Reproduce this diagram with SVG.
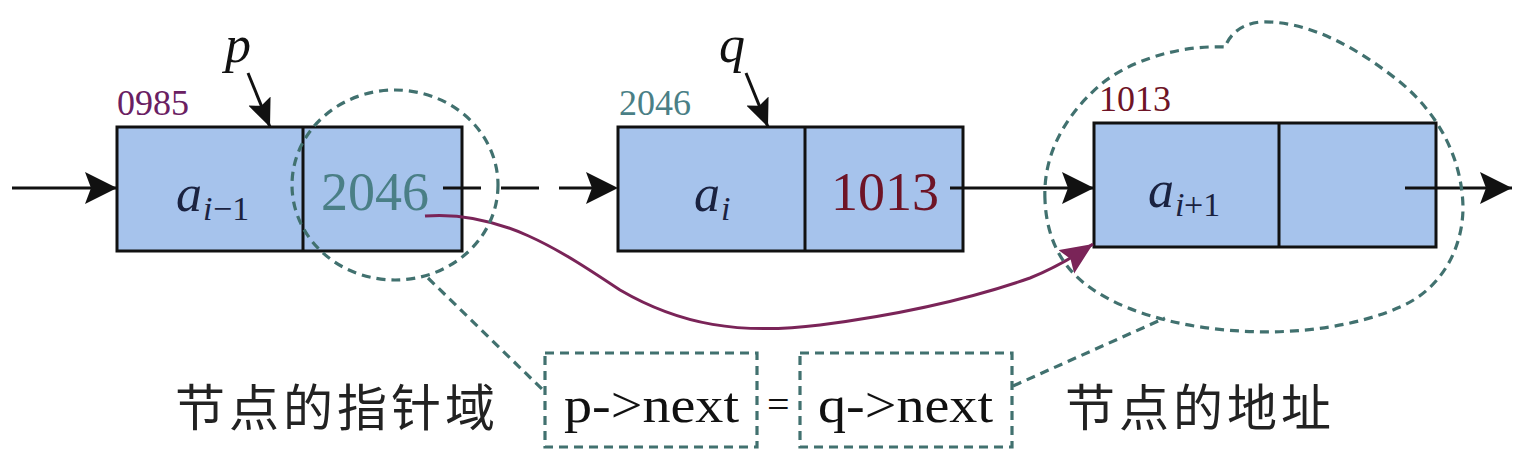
<svg xmlns="http://www.w3.org/2000/svg" width="1522" height="461" viewBox="0 0 1522 461">
<style>
.cell{fill:#a6c3ec;stroke:#111;stroke-width:3}
.div{stroke:#111;stroke-width:3}
.serif{font-family:"Liberation Serif","Times New Roman",serif}
.it{font-style:italic}
.dash{fill:none;stroke:#41716f;stroke-width:3.2;stroke-dasharray:9 6}
.link{fill:none;stroke:#111;stroke-width:3}
.cjk{font-family:"Noto Sans CJK SC",sans-serif;font-size:50px;fill:#222}
</style>
<defs>
<marker id="ah" markerUnits="userSpaceOnUse" markerWidth="34" markerHeight="34" refX="32" refY="16" orient="auto"><path d="M0,0 L32,16 L0,32 L6,16 Z" fill="#111"/></marker>
<marker id="ahs" markerUnits="userSpaceOnUse" markerWidth="30" markerHeight="26" refX="28" refY="12" orient="auto"><path d="M0,0 L28,12 L0,24 L5,12 Z" fill="#111"/></marker>
<marker id="ahp" markerUnits="userSpaceOnUse" markerWidth="34" markerHeight="30" refX="32" refY="14" orient="auto"><path d="M0,0 L32,14 L0,28 L5,14 Z" fill="#7a2458"/></marker>
</defs>

<g id="node1">
<rect class="cell" x="117" y="127" width="345" height="124"/>
<line class="div" x1="303" y1="127" x2="303" y2="251"/>
<text class="serif" x="117" y="115" font-size="36" fill="#6a2062">0985</text>
<text class="serif it" x="176" y="211" font-size="52" fill="#1a2240">a</text>
<text class="serif it" x="203" y="220" font-size="34" fill="#1a2240">i</text>
<text class="serif" x="213" y="220" font-size="34" fill="#1a2240">−1</text>
<text class="serif" x="321" y="210" font-size="54" fill="#4a7f86">2046</text>
</g>

<g id="node2">
<rect class="cell" x="618" y="127" width="345" height="124"/>
<line class="div" x1="805" y1="127" x2="805" y2="251"/>
<text class="serif" x="619" y="115" font-size="36" fill="#4a7f86">2046</text>
<text class="serif it" x="694" y="211" font-size="52" fill="#1a2240">a</text>
<text class="serif it" x="721" y="220" font-size="34" fill="#1a2240">i</text>
<text class="serif" x="831" y="210" font-size="54" fill="#6e1426">1013</text>
</g>

<g id="node3">
<rect class="cell" x="1094" y="123" width="342" height="124"/>
<line class="div" x1="1279" y1="123" x2="1279" y2="247"/>
<text class="serif" x="1099" y="111" font-size="36" fill="#6e1426">1013</text>
<text class="serif it" x="1148" y="207" font-size="52" fill="#1a2240">a</text>
<text class="serif it" x="1175" y="216" font-size="34" fill="#1a2240">i</text>
<text class="serif" x="1184" y="216" font-size="34" fill="#1a2240">+1</text>
</g>

<g id="pointer-p">
<text class="serif it" x="225" y="62" font-size="52" fill="#111">p</text>
</g>
<g id="pointer-q">
<text class="serif it" x="719" y="62" font-size="52" fill="#111">q</text>
</g>

<g id="labels">
<text class="cjk" x="175" y="426" letter-spacing="4">节点的指针域</text>
<text class="cjk" x="1065" y="426" letter-spacing="4">节点的地址</text>
<rect class="dash" x="545" y="353" width="212" height="94"/>
<rect class="dash" x="800" y="353" width="212" height="94"/>
<text class="serif" x="564" y="422" font-size="50" fill="#111" textLength="175" lengthAdjust="spacingAndGlyphs">p-&gt;next</text>
<text class="serif" x="767" y="418" font-size="40" fill="#111">=</text>
<text class="serif" x="818" y="422" font-size="50" fill="#111" textLength="175" lengthAdjust="spacingAndGlyphs">q-&gt;next</text>
</g>

<g id="connectors">
<line class="link" x1="12" y1="188" x2="117" y2="188" marker-end="url(#ah)"/>
<line class="link" x1="443" y1="188" x2="618" y2="188" stroke-dasharray="38 20" marker-end="url(#ah)"/>
<line class="link" x1="950" y1="188" x2="1094" y2="188" marker-end="url(#ah)"/>
<line class="link" x1="1405" y1="188" x2="1512" y2="188" marker-end="url(#ah)"/>
<line class="link" x1="248" y1="73" x2="270" y2="127" marker-end="url(#ahs)"/>
<line class="link" x1="746" y1="73" x2="768" y2="127" marker-end="url(#ahs)"/>
<path d="M425,216 C500,210 560,250 620,290 C680,325 740,335 820,325 C920,312 990,292 1030,278 C1055,268 1075,256 1093,244" fill="none" stroke="#7a2458" stroke-width="3" marker-end="url(#ahp)"/>
<ellipse class="dash" cx="395" cy="185" rx="103" ry="95"/>
<line class="dash" x1="428" y1="278" x2="545" y2="392"/>
<path class="dash" d="M1045,200 C1043,160 1060,120 1100,85 C1130,60 1180,45 1225,47 C1228,40 1235,25 1260,22 C1310,20 1360,50 1400,82 C1440,115 1462,160 1463,207 C1463,250 1440,290 1400,307 C1360,325 1300,335 1240,331 C1180,328 1110,310 1075,275 C1055,255 1046,228 1045,200 Z"/>
<line class="dash" x1="1013" y1="386" x2="1165" y2="318"/>
</g>
</svg>
